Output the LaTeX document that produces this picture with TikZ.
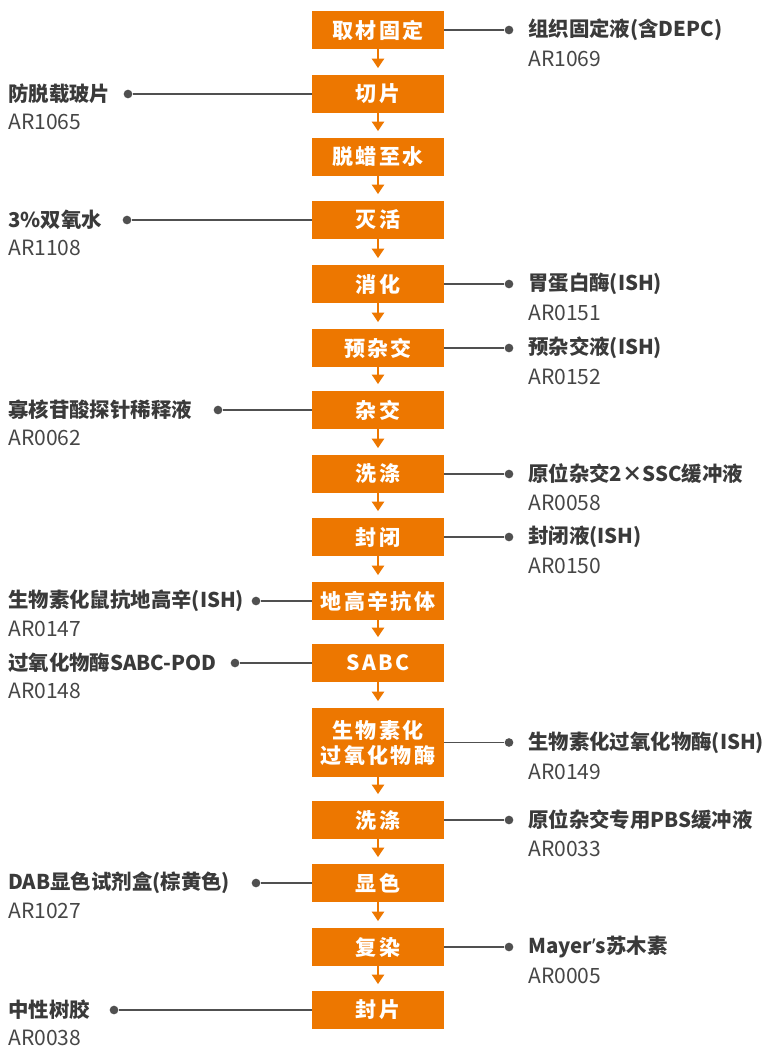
\documentclass[tikz,border=0pt]{standalone}
\usepackage{fontspec}
\setmainfont{Noto Sans CJK SC}
\newfontfamily\boxfont{Noto Sans CJK SC}[LetterSpace=11]
\newfontfamily\latinfont{Noto Sans}
\usetikzlibrary{arrows.meta,calc}
\definecolor{org}{RGB}{237,119,0}
\definecolor{txt}{RGB}{58,58,58}
\definecolor{cod}{RGB}{70,70,70}
\definecolor{lnc}{RGB}{80,80,80}
\tikzset{
  box/.style={fill=org, text=white, minimum width=99pt, minimum height=28.5pt, inner sep=0pt,
    font=\boxfont\fontsize{15.75pt}{18.75pt}\selectfont\bfseries, align=center},
  tallbox/.style={box, minimum height=51.75pt},
  flow/.style={org, line width=1.5pt, -{Triangle[width=9pt,length=7pt]}, shorten >=5pt},
  dotn/.style={circle, fill=lnc, minimum size=6.5pt, inner sep=0pt},
  conn/.style={lnc, line width=1.1pt},
  lbl/.style={text=txt, font=\fontsize{15.3pt}{18pt}\selectfont\bfseries, inner sep=0pt},
  code/.style={text=cod, font=\fontsize{15.8pt}{18pt}\selectfont, inner sep=0pt},
}
\begin{document}
\begin{tikzpicture}[x=0.75pt,y=-0.75pt]
\useasboundingbox (0,0) rectangle (767,1047);
% boxes
\node[box] (b1) at (378,30) {取材固定};
\node[box] (b2) at (378,94) {切片};
\node[box] (b3) at (378,157) {脱蜡至水};
\node[box] (b4) at (378,220) {灭活};
\node[box] (b5) at (378,284) {消化};
\node[box] (b6) at (378,348) {预杂交};
\node[box] (b7) at (378,410) {杂交};
\node[box] (b8) at (378,474) {洗涤};
\node[box] (b9) at (378,537) {封闭};
\node[box] (b10) at (378,601) {地高辛抗体};
\node[box] (b11) at (378,663) {SABC};
\node[tallbox] (b12) at (378,742.5) {生物素化\\过氧化物酶};
\node[box] (b13) at (378,820) {洗涤};
\node[box] (b14) at (378,883) {显色};
\node[box] (b15) at (378,947) {复染};
\node[box] (b16) at (378,1010) {封片};
\foreach \a/\b in {b1/b2,b2/b3,b3/b4,b4/b5,b5/b6,b6/b7,b7/b8,b8/b9,b9/b10,b10/b11,b11/b12,b12/b13,b13/b14,b14/b15,b15/b16}
  \draw[flow] (\a.south) -- (\b.north);
% right side
\foreach \n/\y/\t/\c in {
  b1/30/{组织固定液(含DEPC)}/AR1069,
  b5/284/{胃蛋白酶(ISH)}/AR0151,
  b6/348/{预杂交液(ISH)}/AR0152,
  b8/474/{原位杂交2×SSC缓冲液}/AR0058,
  b9/537/{封闭液(ISH)}/AR0150,
  b12/742.5/{生物素化过氧化物酶(ISH)}/AR0149,
  b13/820/{原位杂交专用PBS缓冲液}/AR0033,
  b15/947/{Mayer{\latinfont\bfseries ’}s苏木素}/AR0005}{
  \node[dotn] (rd\n) at (509,\y) {};
  \draw[conn] (\n.east) -- (rd\n);
  \node[lbl, anchor=west] (rl\n) at (528,\y) {\t};
  \node[code, anchor=west] (rc\n) at (528,\y+29) {\c};
}
% left side
\foreach \n/\y/\d/\t/\c in {
  b2/94/128/{防脱载玻片}/AR1065,
  b4/220/127/{3\%双氧水}/AR1108,
  b7/410/218/{寡核苷酸探针稀释液}/AR0062,
  b10/601/256/{生物素化鼠抗地高辛(ISH)}/AR0147,
  b11/663/235/{过氧化物酶SABC-POD}/AR0148,
  b14/883/256/{DAB显色试剂盒(棕黄色)}/AR1027,
  b16/1010/114/{中性树胶}/AR0038}{
  \node[dotn] (ld\n) at (\d,\y) {};
  \draw[conn] (ld\n) -- (\n.west);
  \node[lbl, anchor=west] (ll\n) at (8,\y) {\t};
  \node[code, anchor=west] (lc\n) at (8,\y+28) {\c};
}
\end{tikzpicture}
\end{document}
